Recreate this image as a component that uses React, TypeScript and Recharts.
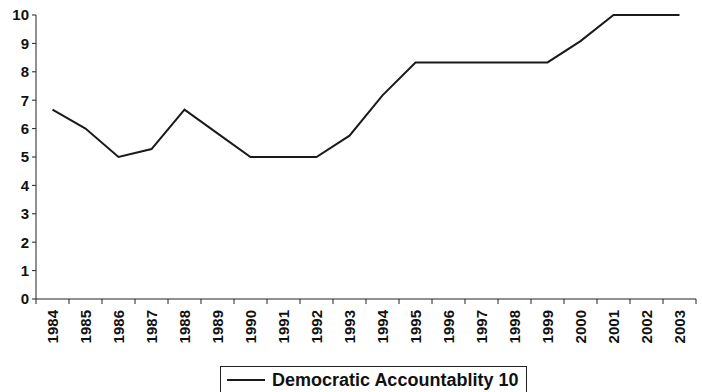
import React from 'react';
import { LineChart, Line, XAxis, YAxis } from 'recharts';

const years = [
  '1984', '1985', '1986', '1987', '1988', '1989', '1990', '1991', '1992', '1993',
  '1994', '1995', '1996', '1997', '1998', '1999', '2000', '2001', '2002', '2003',
];
const accountability = [
  6.67, 6.0, 5.0, 5.28, 6.67, 5.83, 5.0, 5.0, 5.0, 5.75,
  7.17, 8.33, 8.33, 8.33, 8.33, 8.33, 9.08, 10, 10, 10,
];
const yTicks = [0, 1, 2, 3, 4, 5, 6, 7, 8, 9, 10];
const seriesName = 'Democratic Accountablity 10';

const data = years.map((year, i) => ({ year, value: accountability[i] }));

const W = 702;
const H = 392;
const margin = { top: 15, right: 6, bottom: 33, left: 0 };
const yAxisWidth = 36;
const band = (W - margin.left - margin.right - yAxisWidth) / years.length;
const font = '"Liberation Sans", Arial, sans-serif';

function YearTick(props: any) {
  const { x, y, payload, index } = props;
  return (
    <g>
      <line x1={x - band / 2} x2={x - band / 2} y1={y} y2={y + 5} stroke="#222" />
      {index === years.length - 1 && (
        <line x1={x + band / 2} x2={x + band / 2} y1={y} y2={y + 5} stroke="#222" />
      )}
      <text
        x={x}
        y={y + 11}
        dy="0.35em"
        transform={`rotate(-90, ${x}, ${y + 11})`}
        textAnchor="end"
        fontSize={15}
        fontWeight="bold"
        fontFamily={font}
        fill="#111"
      >
        {payload.value}
      </text>
    </g>
  );
}

export default function App() {
  return (
    <div style={{ position: 'absolute', left: 0, top: 0, width: W, height: H, background: '#fff' }}>
      <LineChart width={W} height={H} data={data} margin={margin}>
        <XAxis
          dataKey="year"
          scale="band"
          interval={0}
          height={60}
          tickSize={0}
          tickMargin={0}
          tickLine={false}
          tick={<YearTick />}
          stroke="#222"
        />
        <YAxis
          domain={[0, 10]}
          ticks={yTicks}
          interval={0}
          width={yAxisWidth}
          tickSize={4}
          tickMargin={3}
          stroke="#222"
          tick={{ fontSize: 15, fontWeight: 'bold', fontFamily: font, fill: '#111' }}
        />
        <Line
          type="linear"
          dataKey="value"
          name={seriesName}
          stroke="#1a1a1a"
          strokeWidth={2}
          dot={false}
          isAnimationActive={false}
        />
      </LineChart>
      <div
        style={{
          position: 'absolute',
          left: 220,
          top: 366,
          width: 307,
          height: 32,
          border: '1px solid #222',
          boxSizing: 'border-box',
          display: 'flex',
          alignItems: 'center',
          paddingBottom: 4,
          fontFamily: font,
          fontWeight: 'bold',
          fontSize: 18,
          color: '#111',
          whiteSpace: 'nowrap',
        }}
      >
        <span style={{ display: 'inline-block', width: 38, height: 0, borderTop: '2px solid #1a1a1a', margin: '0 7px 0 6px' }} />
        {seriesName}
      </div>
    </div>
  );
}
